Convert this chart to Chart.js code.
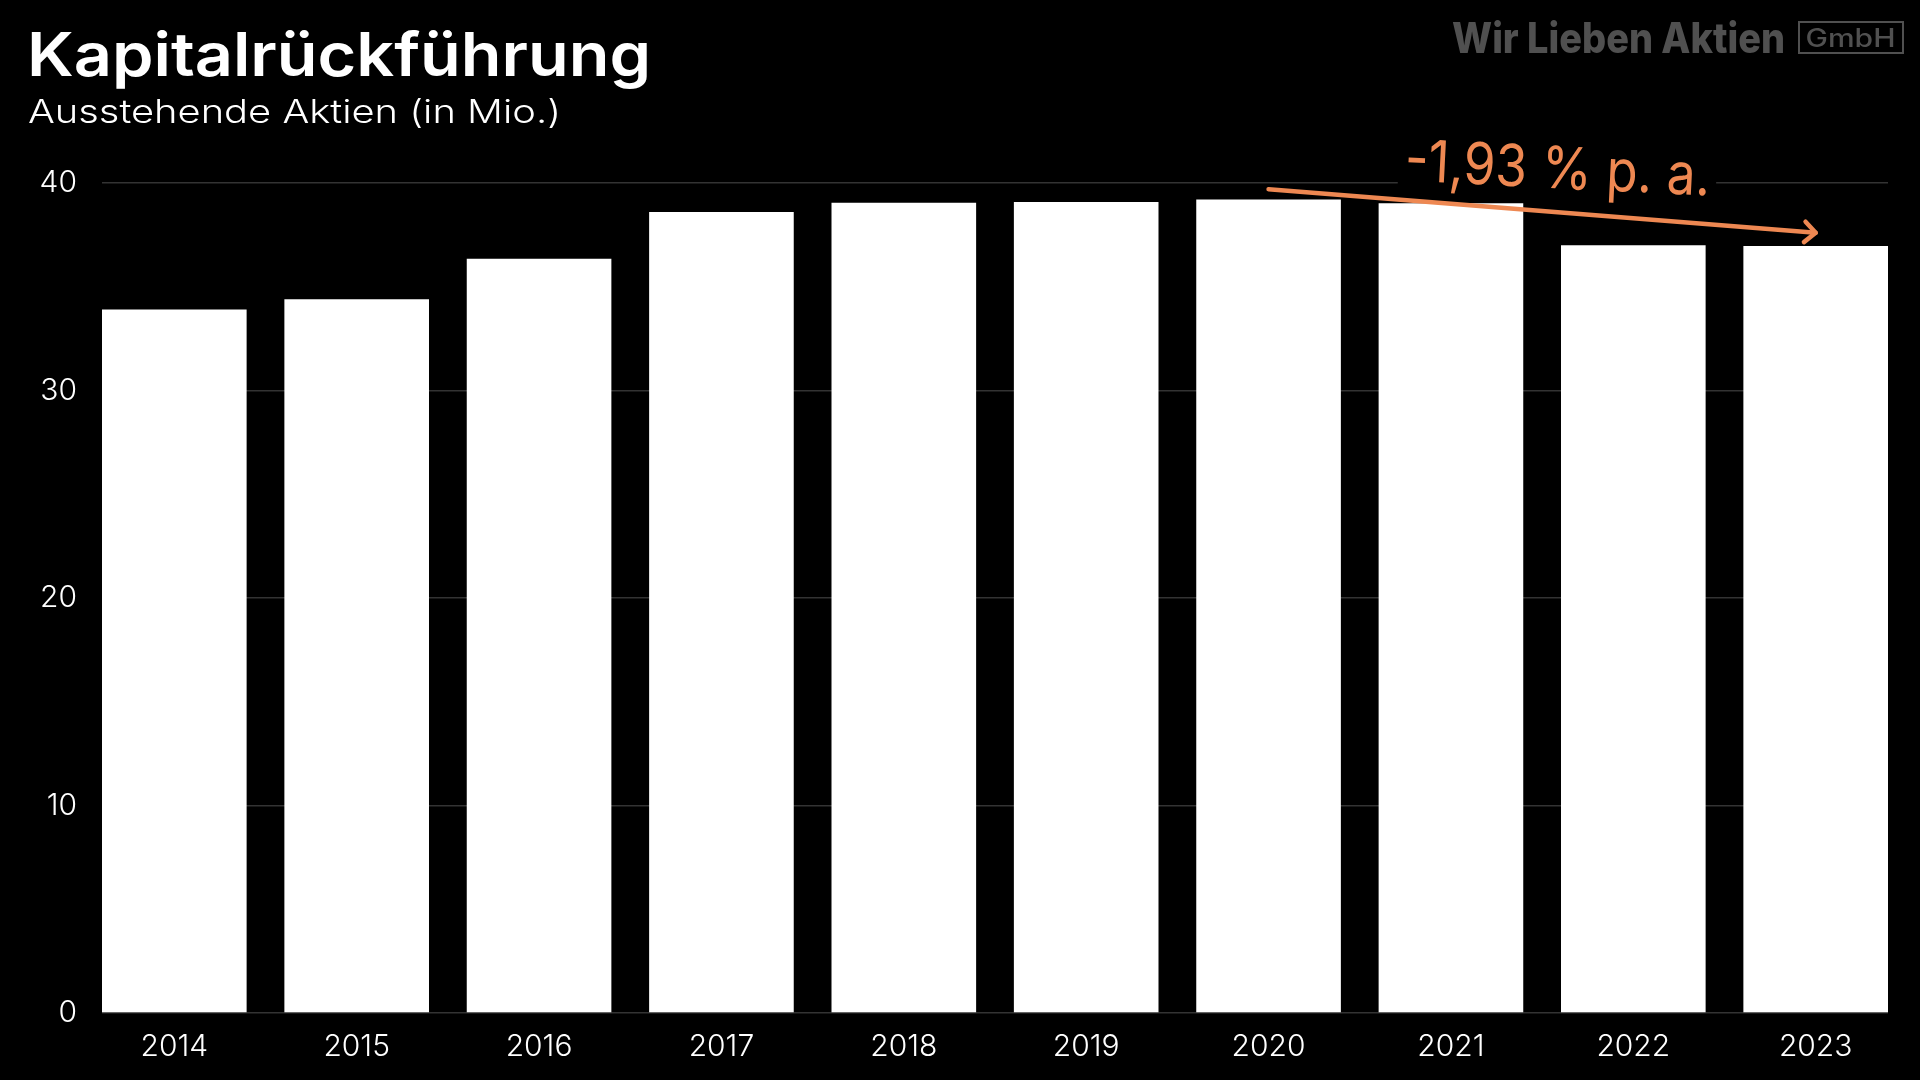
<!DOCTYPE html>
<html>
<head>
<meta charset="utf-8">
<script src="https://cdn.jsdelivr.net/npm/chart.js@4/dist/chart.umd.min.js"></script>
<style>
  html, body { margin:0; padding:0; background:#000; width:1920px; height:1080px; overflow:hidden; }
  canvas { display:block; }
</style>
</head>
<body>
<canvas id="c" width="1920" height="1080"></canvas>
<script>
// ---- data ----
const categories = ['2014','2015','2016','2017','2018','2019','2020','2021','2022','2023'];
const sharesOutstanding = [33.9, 34.4, 36.35, 38.6, 39.05, 39.08, 39.2, 39.03, 37.0, 36.96];
const yTicks = [0, 10, 20, 30, 40];
const titleText = 'Kapitalrückführung';
const subtitleText = 'Ausstehende Aktien (in Mio.)';
const trendLabel = '-1,93 % p. a.';
const trendFrom = [6, 39.7];   // 2020
const trendTo = [9, 37.6];     // 2023
const trendLabelPos = [7.58, 39.75];

// ---- styling ----
const FONT = 'Inter, "Open Sans", "Noto Sans", sans-serif';
const ORANGE = '#EE8852';
const BAR_FRACTION = 0.793;

function fitText(ctx, text, x, y, width, font, color, align) {
  ctx.save();
  ctx.font = font;
  ctx.fillStyle = color;
  ctx.textBaseline = 'alphabetic';
  const w = ctx.measureText(text).width;
  const s = width / w;
  let x0 = x;
  if (align === 'center') x0 = x - width / 2;
  else if (align === 'right') x0 = x - width;
  ctx.translate(x0, y);
  ctx.scale(s, 1);
  ctx.textAlign = 'left';
  ctx.fillText(text, 0, 0);
  ctx.restore();
}

const decor = {
  id: 'decor',
  afterDraw(chart) {
    const ctx = chart.ctx;
    const xs = chart.scales.x, ys = chart.scales.y;
    // titles
    fitText(ctx, titleText, 27, 76, 624, '600 60px ' + FONT, '#ffffff');
    fitText(ctx, subtitleText, 28, 123, 533, '300 33px ' + FONT, '#ffffff');
    // logo
    fitText(ctx, 'Wir Lieben Aktien', 1452, 53, 333, '800 42px ' + FONT, '#505050');
    ctx.save();
    ctx.strokeStyle = '#505050';
    ctx.lineWidth = 2;
    ctx.strokeRect(1799, 22, 104, 31);
    ctx.restore();
    fitText(ctx, 'GmbH', 1850.5, 47, 90, '500 25px ' + FONT, '#505050', 'center');

    // trend label (rotated) with black backdrop
    const lx = xs.getPixelForValue(trendLabelPos[0]);
    const ly = ys.getPixelForValue(trendLabelPos[1]);
    const ang = 2.8 * Math.PI / 180;
    ctx.save();
    ctx.translate(lx, ly);
    ctx.rotate(ang);
    ctx.font = '400 58px ' + FONT;
    const tw = ctx.measureText(trendLabel).width;
    const target = 306;
    ctx.fillStyle = '#000';
    ctx.fillRect(-target / 2 - 6, -46, target + 12, 52);
    ctx.scale(target / tw, 1);
    ctx.fillStyle = ORANGE;
    ctx.textAlign = 'center';
    ctx.textBaseline = 'alphabetic';
    ctx.fillText(trendLabel, 0, 0);
    ctx.restore();

    // arrow
    const x1 = xs.getPixelForValue(trendFrom[0]), y1 = ys.getPixelForValue(trendFrom[1]);
    const x2 = xs.getPixelForValue(trendTo[0]), y2 = ys.getPixelForValue(trendTo[1]);
    const a = Math.atan2(y2 - y1, x2 - x1);
    ctx.save();
    ctx.strokeStyle = ORANGE;
    ctx.lineWidth = 4.5;
    ctx.lineCap = 'round';
    ctx.lineJoin = 'round';
    ctx.beginPath();
    ctx.moveTo(x1, y1);
    ctx.lineTo(x2, y2);
    ctx.stroke();
    const hl = 15, ha = 0.75;
    ctx.beginPath();
    ctx.moveTo(x2 - hl * Math.cos(a - ha), y2 - hl * Math.sin(a - ha));
    ctx.lineTo(x2, y2);
    ctx.lineTo(x2 - hl * Math.cos(a + ha), y2 - hl * Math.sin(a + ha));
    ctx.stroke();
    ctx.restore();
  }
};

new Chart(document.getElementById('c'), {
  type: 'bar',
  data: {
    datasets: [{
      data: sharesOutstanding.map((v, i) => ({ x: i, y: v })),
      backgroundColor: '#ffffff',
      borderWidth: 0,
      barPercentage: BAR_FRACTION,
      categoryPercentage: 1
    }]
  },
  options: {
    responsive: false,
    devicePixelRatio: 1,
    animation: false,
    layout: { padding: { top: 183, right: 32, left: 0, bottom: 0 } },
    plugins: { legend: { display: false }, tooltip: { enabled: false }, title: { display: false } },
    scales: {
      x: {
        type: 'linear',
        offset: false,
        min: -BAR_FRACTION / 2,
        max: categories.length - 1 + BAR_FRACTION / 2,
        grid: { display: false, offset: false },
        border: { display: false },
        afterBuildTicks: (s) => { s.ticks = categories.map((_, i) => ({ value: i })); },
        afterFit: (s) => { s.height = 67; },
        ticks: {
          autoSkip: false,
          maxRotation: 0,
          includeBounds: false,
          padding: 8,
          color: '#ffffff',
          font: { family: FONT, size: 30, weight: '300' },
          callback: (v) => categories[Math.round(v)]
        }
      },
      y: {
        min: yTicks[0],
        max: yTicks[yTicks.length - 1],
        afterBuildTicks: (s) => { s.ticks = yTicks.map(v => ({ value: v })); },
        afterFit: (s) => { s.width = 102; },
        grid: { color: '#333333', lineWidth: 1.5, drawTicks: false },
        border: { display: false },
        ticks: {
          padding: 25,
          color: '#ffffff',
          font: { family: FONT, size: 30, weight: '300' }
        }
      }
    }
  },
  plugins: [decor]
});
</script>
</body>
</html>
